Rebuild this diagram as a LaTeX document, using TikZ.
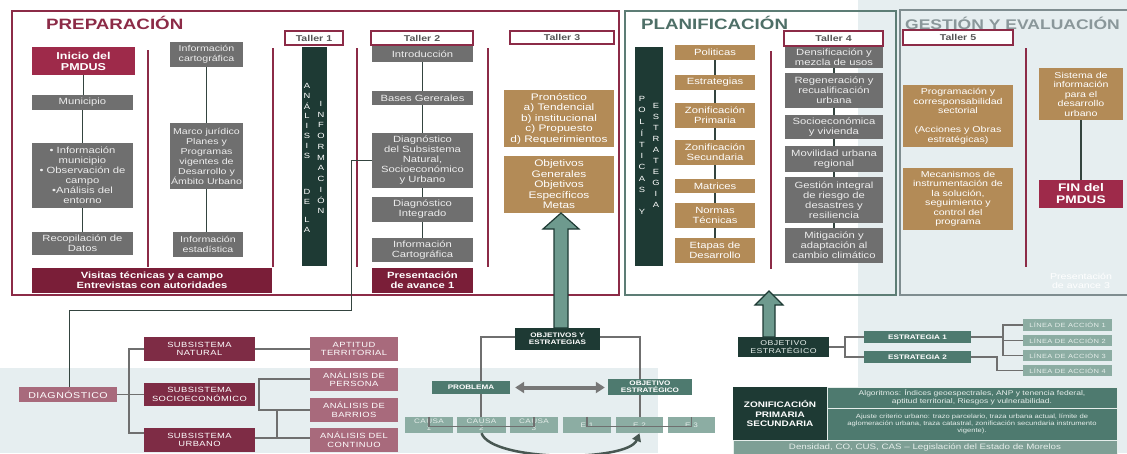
\documentclass[tikz,border=0pt]{standalone}
\usepackage{fontspec}
\setmainfont{Liberation Sans}[FakeStretch=1.25]
\newfontfamily\widefont{Liberation Sans}[FakeStretch=1.25,LetterSpace=6]
\usetikzlibrary{arrows.meta}
\definecolor{cframe}{HTML}{8C2B47}
\definecolor{cred}{HTML}{9E2A4A}
\definecolor{cdark}{HTML}{7A1E38}
\definecolor{cgray}{HTML}{6F6F6F}
\definecolor{cgtext}{HTML}{EDEDED}
\definecolor{cgold}{HTML}{B38B57}
\definecolor{cgreen}{HTML}{1E3A34}
\definecolor{cteal}{HTML}{4E7A6F}
\definecolor{clteal}{HTML}{8CADA3}
\definecolor{cltext}{HTML}{E6EEEB}
\definecolor{cpink}{HTML}{A86A7C}
\definecolor{csub}{HTML}{7E2C45}
\definecolor{cbg}{HTML}{E6EEF0}
\definecolor{cplan}{HTML}{5D7D75}
\definecolor{cgest}{HTML}{7F8D90}
\definecolor{cline}{HTML}{34443F}
\definecolor{ctaller}{HTML}{555555}
\definecolor{ctitleL}{HTML}{4E6F67}
\definecolor{ctitleG}{HTML}{8A979A}
\definecolor{carrow}{HTML}{6E9A8E}
\definecolor{cdbl}{HTML}{777777}
\definecolor{cdens}{HTML}{7E9F95}
\newcommand\mybox[7]{%
 \pgfmathsetmacro\bxw{#5-#3}%
 \pgfmathsetmacro\bxh{#6-#4}%
 \pgfmathsetmacro\bxcx{(#3+#5)/2}%
 \pgfmathsetmacro\bxcy{(#4+#6)/2}%
 \node[#1, minimum width=\bxw pt, minimum height=\bxh pt] (#2) at (\bxcx,\bxcy) {#7};}
\tikzset{
 bx/.style={inner sep=0pt, align=center, text=white, font=\fontsize{9}{10}\selectfont},
 grayb/.style={bx, fill=cgray, text=cgtext},
 redb/.style={bx, fill=cred, font=\fontsize{10}{11}\selectfont\bfseries},
 darkb/.style={bx, fill=cdark, font=\fontsize{9}{10}\selectfont\bfseries},
 goldb/.style={bx, fill=cgold},
 greenb/.style={bx, fill=cgreen},
 tallerb/.style={bx, fill=white, draw=cframe, line width=1.2pt, text=ctaller, font=\fontsize{8.5}{9}\selectfont\bfseries},
 tealb/.style={bx, fill=cteal, font=\fontsize{6.5}{7}\selectfont\bfseries},
 ltealb/.style={bx, fill=clteal, text=cltext, font=\widefont\fontsize{6.5}{6.8}\selectfont},
 pinkb/.style={bx, fill=cpink, font=\widefont\fontsize{7.5}{8.5}\selectfont},
 subb/.style={bx, fill=csub, font=\widefont\fontsize{7.5}{8.5}\selectfont},
 conn/.style={draw=cline, line width=1.1pt},
 lconn/.style={draw=cgray, line width=1.1pt},
 sepline/.style={draw=cframe, line width=1.2pt},
 vl/.style={text=white, font=\fontsize{7.5}{8}\selectfont, inner sep=0pt},
 bigarrow/.style={fill=carrow, draw=cgreen, line width=1.2pt, line join=miter},
}
\begin{document}
\begin{tikzpicture}[x=1pt,y=-1pt]
\useasboundingbox (0,0) rectangle (1127,453);
% backgrounds
\fill[cbg] (858,0) rectangle (1127,453);
\fill[cbg] (0,368) rectangle (658,453);
% frames
\draw[cframe, line width=1.5pt] (12,11) rectangle (619,295);
\draw[cplan, line width=2pt] (625,11) rectangle (896,295);
\draw[cgest, line width=2pt] (900,10) rectangle (1140,295);
% titles
\node[anchor=west, inner sep=0pt, text=cframe, font=\fontsize{15}{15}\selectfont\bfseries] (tprep) at (46,23) {PREPARACIÓN};
\node[anchor=west, inner sep=0pt, text=ctitleL, font=\fontsize{15}{15}\selectfont\bfseries] (tplan) at (641,23) {PLANIFICACIÓN};
\node[anchor=west, inner sep=0pt, text=ctitleG, font=\fontsize{14}{14}\selectfont\bfseries] (tgest) at (905,23) {GESTIÓN Y EVALUACIÓN};
% separators
\draw[sepline] (148,50) -- (148,267);
\draw[sepline] (273,48) -- (273,267);
\draw[sepline] (357,48) -- (357,267);
\draw[sepline] (488,48) -- (488,267);
\draw[sepline] (771,51) -- (771,269);
\draw[sepline] (1026,48) -- (1026,267);
% ---------- PREPARACION ----------
\mybox{redb}{inicio}{32}{47}{135}{75}{Inicio del\\PMDUS}
\mybox{grayb}{muni}{32}{95}{133}{110}{Municipio}
\mybox{grayb}{info}{32}{143}{133}{208}{• Información\\municipio\\• Observación de\\campo\\•Análisis del\\entorno}
\mybox{grayb}{recop}{32}{232}{133}{255}{Recopilación de\\Datos}
\mybox{grayb, font=\fontsize{8.5}{10}\selectfont}{cart}{170}{42}{243}{67}{Información\\cartográfica}
\mybox{grayb, font=\fontsize{8.5}{10}\selectfont}{marco}{170}{123}{243}{189}{Marco jurídico\\Planes y\\Programas\\vigentes de\\Desarrollo y\\Ámbito Urbano}
\mybox{grayb, font=\fontsize{8.5}{10}\selectfont}{estad}{173}{232}{243}{257}{Información\\estadística}
\mybox{darkb}{visitas}{32}{268}{272}{293}{Visitas técnicas y a campo\\Entrevistas con autoridades}
\draw[conn] (inicio.south) -- (inicio.south |- muni.north);
\draw[conn] (muni.south) -- (muni.south |- info.north);
\draw[conn] (info.south) -- (info.south |- recop.north);
\draw[conn] (cart.south) -- (cart.south |- marco.north);
\draw[conn] (marco.south) -- (marco.south |- estad.north);
% Taller 1
\mybox{tallerb}{t1}{285}{31}{343}{45}{Taller 1}
\mybox{greenb}{t1bar}{302}{47}{327}{266}{}
\foreach \l [count=\i] in {A,N,Á,L,I,S,I,S}{\node[vl] (ta\i) at (307,{86+10*(\i-1)}) {\l};}
\node[vl] (td1) at (307,192) {D};
\node[vl] (td2) at (307,202) {E};
\node[vl] (td3) at (307,220) {L};
\node[vl] (td4) at (307,230) {A};
\foreach \l [count=\i] in {I,N,F,O,R,M,A,C,I,Ó,N}{\node[vl] (tb\i) at (321,{104+10.7*(\i-1)}) {\l};}
% Taller 2
\mybox{tallerb}{t2}{371}{31}{473}{45}{Taller 2}
\mybox{grayb}{intro}{372}{46}{473}{62}{Introducción}
\mybox{grayb}{bases}{372}{91}{473}{105}{Bases Gererales}
\mybox{grayb}{diag}{372}{133}{473}{188}{Diagnóstico\\del Subsistema\\Natural,\\Socioeconómico\\y Urbano}
\mybox{grayb}{diagint}{372}{197}{473}{222}{Diagnóstico\\Integrado}
\mybox{grayb}{infocart}{372}{238}{473}{262}{Información\\Cartográfica}
\mybox{darkb}{pres1}{372}{268}{473}{293}{Presentación\\de avance 1}
\draw[conn] (intro.south) -- (intro.south |- bases.north);
\draw[conn] (bases.south) -- (bases.south |- diag.north);
\draw[conn] (diag.south) -- (diag.south |- diagint.north);
\draw[conn] (diagint.south) -- (diagint.south |- infocart.north);
% Taller 3
\mybox{tallerb}{t3}{510}{31}{614}{44}{Taller 3}
\mybox{goldb, font=\fontsize{9.5}{10.5}\selectfont}{prono}{504}{90}{614}{147}{Pronóstico\\a) Tendencial\\b) institucional\\c) Propuesto\\d) Requerimientos}
\mybox{goldb, font=\fontsize{9.5}{10.5}\selectfont}{objs}{504}{156}{614}{213}{Objetivos\\Generales\\Objetivos\\Específicos\\Metas}
% ---------- PLANIFICACION ----------
\mybox{greenb}{pybar}{635}{47}{663}{266}{}
\foreach \l [count=\i] in {P,O,L,Í,T,I,C,A,S}{\node[vl] (pa\i) at (642,{99+11.4*(\i-1)}) {\l};}
\node[vl] (pay) at (642,212) {Y};
\foreach \l [count=\i] in {E,S,T,R,A,T,E,G,I,A}{\node[vl] (pb\i) at (656,{106+11*(\i-1)}) {\l};}
\mybox{goldb}{pol}{675}{45}{755}{60}{Politicas}
\mybox{goldb}{estr}{675}{75}{755}{90}{Estrategias}
\mybox{goldb}{zp}{675}{103}{755}{128}{Zonificación\\Primaria}
\mybox{goldb}{zs}{675}{140}{755}{165}{Zonificación\\Secundaria}
\mybox{goldb}{mat}{675}{179}{755}{193}{Matrices}
\mybox{goldb}{norm}{675}{203}{755}{228}{Normas\\Técnicas}
\mybox{goldb}{etap}{675}{238}{755}{263}{Etapas de\\Desarrollo}
\draw[conn] (pol.south) -- (pol.south |- estr.north);
\draw[conn] (estr.south) -- (estr.south |- zp.north);
\draw[conn] (zp.south) -- (zp.south |- zs.north);
\draw[conn] (zs.south) -- (zs.south |- mat.north);
\draw[conn] (mat.south) -- (mat.south |- norm.north);
\draw[conn] (norm.south) -- (norm.south |- etap.north);
\mybox{tallerb}{t4}{784}{31}{883}{46}{Taller 4}
\mybox{grayb}{dens}{785}{47}{883}{68}{Densificación y\\mezcla de usos}
\mybox{grayb}{regen}{785}{73}{883}{108}{Regeneración y\\recualificación\\urbana}
\mybox{grayb}{socio}{785}{115}{883}{139}{Socioeconómica\\y vivienda}
\mybox{grayb}{movil}{785}{146}{883}{172}{Movilidad urbana\\regional}
\mybox{grayb}{gesti}{785}{177}{883}{223}{Gestión integral\\de riesgo de\\desastres y\\resiliencia}
\mybox{grayb}{mitig}{785}{228}{883}{263}{Mitigación y\\adaptación al\\cambio climático}
\draw[conn] (dens.south) -- (dens.south |- regen.north);
\draw[conn] (regen.south) -- (regen.south |- socio.north);
\draw[conn] (socio.south) -- (socio.south |- movil.north);
\draw[conn] (movil.south) -- (movil.south |- gesti.north);
\draw[conn] (gesti.south) -- (gesti.south |- mitig.north);
% ---------- GESTION ----------
\mybox{tallerb}{t5}{903}{30}{1013}{45}{Taller 5}
\mybox{goldb, font=\fontsize{8.5}{9.5}\selectfont}{prog}{903}{85}{1013}{147}{Programación y\\corresponsabilidad\\sectorial\\[9.5pt](Acciones y Obras\\estratégicas)}
\mybox{goldb, font=\fontsize{8.5}{9.5}\selectfont}{mec}{903}{168}{1013}{230}{Mecanismos de\\instrumentación de\\la solución,\\seguimiento y\\control del\\programa}
\mybox{goldb, font=\fontsize{8.5}{9.5}\selectfont}{sis}{1039}{68}{1123}{120}{Sistema de\\información\\para el\\desarrollo\\urbano}
\mybox{redb, font=\fontsize{11}{12}\selectfont\bfseries}{fin}{1039}{180}{1123}{208}{FIN del\\PMDUS}
\draw[conn] (sis.south) -- (sis.south |- fin.north);
\node[text=white, align=center, inner sep=0pt, font=\fontsize{8.5}{9.5}\selectfont] (pres3) at (1081,281) {Presentación\\de avance 3};
% ---------- BOTTOM LEFT ----------
\mybox{pinkb, font=\widefont\fontsize{8.5}{9.5}\selectfont}{diagn}{19}{387}{117}{402}{DIAGNÓSTICO}
\mybox{subb}{ssnat}{144}{337}{255}{361}{SUBSISTEMA\\NATURAL}
\mybox{subb}{sssoc}{144}{383}{255}{406}{SUBSISTEMA\\SOCIOECONÓMICO}
\mybox{subb}{ssurb}{144}{428}{255}{452}{SUBSISTEMA\\URBANO}
\mybox{pinkb}{apt}{310}{337}{398}{361}{APTITUD\\TERRITORIAL}
\mybox{pinkb}{per}{310}{368}{398}{391}{ANÁLISIS DE\\PERSONA}
\mybox{pinkb}{bar}{310}{398}{398}{422}{ANÁLISIS DE\\BARRIOS}
\mybox{pinkb}{cont}{310}{428}{398}{452}{ANÁLISIS DEL\\CONTINUO}
\coordinate (c1) at (351,160);
\coordinate (c2) at (351,310);
\coordinate (c3) at (69,310);
\draw[conn, line width=0.9pt] (diag.west) -- (c1 |- diag.west) -- (c2) -- (c3) -- (c3 |- diagn.north);
\coordinate (jA) at (129,349);
\coordinate (jB) at (129,433);
\draw[lconn] (ssnat.west) -- (jA) -- (jB) -- (jB -| ssurb.west);
\draw[lconn] (diagn.east) -- (diagn.east -| jA);
\draw[lconn] (sssoc.west) -- (sssoc.west -| jA);
\draw[lconn] (ssnat.east) -- (apt.west);
\coordinate (jU) at (277,438);
\coordinate (bP) at (259,379);
\coordinate (bB) at (259,410);
\draw[lconn] (jU -| ssurb.east) -- (jU) -- (jU -| cont.west);
\draw[lconn] (jU) -- (jU |- bB);
\draw[lconn] (bP -| per.west) -- (bP) -- (bB) -- (bB -| bar.west);
% ---------- BOTTOM MIDDLE ----------
\mybox{greenb, font=\fontsize{6.5}{7.5}\selectfont\bfseries}{oye}{515}{328}{600}{350}{OBJETIVOS Y\\ESTRATEGIAS}
\mybox{tealb}{prob}{432}{381}{510}{394}{PROBLEMA}
\mybox{tealb}{obj}{608}{379}{692}{395}{OBJETIVO\\ESTRATÉGICO}
\mybox{ltealb}{ca1}{405}{417}{453}{433}{CAUSA\\1}
\mybox{ltealb}{ca2}{457}{417}{506}{433}{CAUSA\\2}
\mybox{ltealb}{ca3}{510}{417}{558}{433}{CAUSA\\3}
\mybox{ltealb}{e1}{563}{417}{611}{433}{E 1}
\mybox{ltealb}{e2}{616}{417}{663}{433}{E 2}
\mybox{ltealb}{e3}{668}{417}{715}{433}{E 3}
\coordinate (oL) at (481,337);
\coordinate (oR) at (640,337);
\draw[lconn] (oL -| oye.west) -- (oL) -- (oL |- prob.north);
\draw[lconn] (oL |- prob.south) -- (oL |- ca2.north);
\draw[lconn] (oR -| oye.east) -- (oR) -- (oR |- obj.north);
\draw[lconn] (oR |- obj.south) -- (oR |- e2.north);
\draw[lconn] (ca1.north) -- ++(0,10) -| (ca3.north);
\draw[lconn] (e1.north) -- ++(0,10) -| (e3.north);
\draw[cdbl, line width=4pt, {Triangle[width=11pt,length=9pt]}-{Triangle[width=11pt,length=9pt]}] ([xshift=5pt]prob.east) -- ([xshift=-3pt]obj.west |- prob.east);
\draw[draw=cline!90!white, line width=2.5pt, -{Triangle[width=9pt,length=8pt]}] (ca2.south) .. controls (492,462) and (628,462) .. (e2.south);
\draw[bigarrow] (554,328) -- (554,229) -- (543,229) -- (561,213) -- (579,229) -- (568,229) -- (568,328) -- cycle;
% ---------- BOTTOM RIGHT ----------
\mybox{greenb, text=cltext, font=\widefont\fontsize{7}{8}\selectfont}{objest}{738}{337}{829}{357}{OBJETIVO\\ESTRATÉGICO}
\draw[bigarrow] (763,337) -- (763,305) -- (755,305) -- (769,291) -- (783,305) -- (775,305) -- (775,337) -- cycle;
\mybox{tealb}{est1}{864}{331}{971}{343}{ESTRATEGIA 1}
\mybox{tealb}{est2}{864}{351}{971}{363}{ESTRATEGIA 2}
\mybox{ltealb, font=\widefont\fontsize{6}{7}\selectfont}{la1}{1023}{319}{1112}{331}{LÍNEA DE ACCIÓN 1}
\mybox{ltealb, font=\widefont\fontsize{6}{7}\selectfont}{la2}{1023}{335}{1112}{346}{LÍNEA DE ACCIÓN 2}
\mybox{ltealb, font=\widefont\fontsize{6}{7}\selectfont}{la3}{1023}{350}{1112}{361}{LÍNEA DE ACCIÓN 3}
\mybox{ltealb, font=\widefont\fontsize{6}{7}\selectfont}{la4}{1023}{365}{1112}{376}{LÍNEA DE ACCIÓN 4}
\coordinate (sj) at (845,347);
\draw[lconn] (objest.east) -- (objest.east -| sj);
\draw[lconn] (est1.west) -- (est1.west -| sj) -- (est2.west -| sj) -- (est2.west);
\coordinate (lj) at (1003,337);
\draw[lconn] (est1.east) -- (est1.east -| lj);
\draw[lconn] (la1.west) -- (la1.west -| lj) -- (la3.west -| lj) -- (la3.west);
\draw[lconn] (la2.west) -- (la2.west -| lj);
\coordinate (lk) at (997,357);
\draw[lconn] (est2.east) -- (est2.east -| lk) |- (la4.west);
% Zonificacion
\mybox{greenb, font=\fontsize{8}{9.5}\selectfont\bfseries}{zon}{733}{387}{827}{440}{ZONIFICACIÓN\\PRIMARIA\\SECUNDARIA}
\mybox{bx, fill=cteal, text=cltext, draw=cltext, line width=0.4pt, font=\fontsize{6.8}{8}\selectfont}{alg}{827}{387}{1117}{408}{Algoritmos: Índices geoespectrales, ANP y tenencia federal,\\aptitud territorial, Riesgos y vulnerabilidad.}
\mybox{bx, fill=cteal, text=cltext, draw=cltext, line width=0.4pt, font=\fontsize{6.1}{7.2}\selectfont}{aju}{827}{408}{1117}{440}{Ajuste criterio urbano: trazo parcelario, traza urbana actual, límite de\\aglomeración urbana, traza catastral, zonificación secundaria instrumento\\vigente).}
\mybox{bx, fill=cdens, text=cltext, draw=cltext, line width=0.4pt, font=\fontsize{7.8}{8}\selectfont}{densid}{733}{440}{1117}{454}{Densidad, CO, CUS, CAS -- Legislación del Estado de Morelos}
\end{tikzpicture}
\end{document}
